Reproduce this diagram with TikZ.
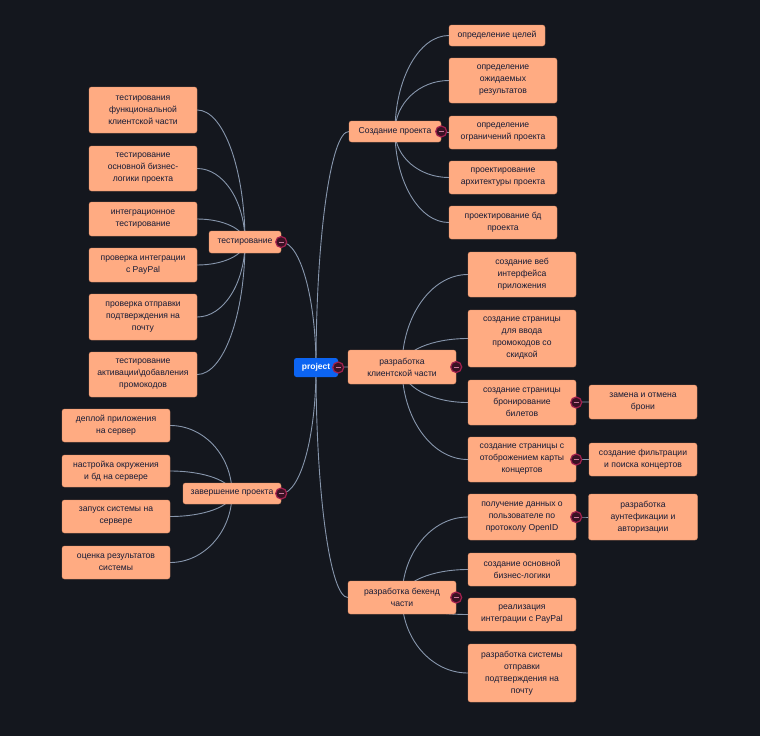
\documentclass[tikz,border=0pt]{standalone}
\usepackage{fontspec}
\setmainfont{Liberation Sans}
\usetikzlibrary{calc}
\pgfdeclarelayer{edgelayer}
\pgfsetlayers{edgelayer,main}
\definecolor{bgcol}{HTML}{14171E}
\definecolor{boxfill}{HTML}{FFAB82}
\definecolor{boxline}{HTML}{D98C66}
\definecolor{ink}{HTML}{161B36}
\definecolor{edgecol}{HTML}{8796AC}
\definecolor{rootblue}{HTML}{0C64F2}
\definecolor{ringcol}{HTML}{A1204E}
\definecolor{ringfill}{HTML}{3A1224}
\definecolor{minuscol}{HTML}{C9789A}
\tikzset{
    topic/.style={draw=boxline, fill=boxfill, text=ink, rounded corners=2.5pt, align=center,
        inner sep=2pt, minimum width=108pt, minimum height=33pt, font=\fontsize{8.6}{12}\selectfont},
    tall/.style={minimum height=#1},
    broad/.style={minimum width=#1},
    rootbox/.style={fill=rootblue, text=white, rounded corners=2.5pt, inner sep=2pt,
        minimum width=44pt, minimum height=19pt, font=\fontsize{8.5}{12}\selectfont\bfseries},
    knob/.style={circle, draw=ringcol, fill=ringfill, line width=1.2pt, minimum size=11pt, inner sep=0pt,
        path picture={\draw [minuscol, line width=1pt] ([xshift=-2.5pt]path picture bounding box.center)
            -- ([xshift=2.5pt]path picture bounding box.center);}},
    branch/.style={draw=edgecol, line width=0.9pt,
        to path={.. controls ($(\tikztostart)!0.55!(\tikztostart|-\tikztotarget)$)
            and ($(\tikztotarget)!0.55!(\tikztostart|-\tikztotarget)$) .. (\tikztotarget)}}
}
\begin{document}
\begin{tikzpicture}[x=1pt, y=-1pt]
        \useasboundingbox (0, 0) rectangle (760, 736);
        \node [rootbox] (root) at (316, 367.5) {project};
        \node [topic, broad=92pt, tall=21pt] (sozd) at (395, 131.5) {Создание проекта};
        \node [topic, broad=72pt, tall=22pt] (test) at (245, 242) {тестирование};
        \node [topic, tall=34pt] (client) at (402, 367) {разработка\\клиентской части};
        \node [topic, broad=98pt, tall=21pt] (zaversh) at (232, 493.5) {завершение проекта};
        \node [topic, tall=33pt] (backend) at (402, 597.5) {разработка бекенд\\части};
        \node [topic, broad=96pt, tall=21pt] (c1) at (497, 35.5) {определение целей};
        \node [topic, tall=45pt] (c2) at (503, 80.5) {определение\\ожидаемых\\результатов};
        \node [topic] (c3) at (503, 132.5) {определение\\ограничений проекта};
        \node [topic] (c4) at (503, 177.5) {проектирование\\архитектуры проекта};
        \node [topic] (c5) at (503, 222.5) {проектирование бд\\проекта};
        \node [topic, tall=46pt] (t1) at (143, 110) {тестирования\\функциональной\\клиентской части};
        \node [topic, tall=45pt] (t2) at (143, 168.5) {тестирование\\основной бизнес-\\логики проекта};
        \node [topic, tall=34pt] (t3) at (143, 219) {интеграционное\\тестирование};
        \node [topic, tall=34pt] (t4) at (143, 265) {проверка интеграции\\с PayPal};
        \node [topic, tall=46pt] (t5) at (143, 317) {проверка отправки\\подтверждения на\\почту};
        \node [topic, tall=45pt] (t6) at (143, 374.5) {тестирование\\активации\textbackslash добавления\\промокодов};
        \node [topic, tall=45pt] (k1) at (522, 274.5) {создание веб\\интерфейса\\приложения};
        \node [topic, tall=57pt] (k2) at (522, 338.5) {создание страницы\\для ввода\\промокодов со\\скидкой};
        \node [topic, tall=45pt] (k3) at (522, 402.5) {создание страницы\\бронирование\\билетов};
        \node [topic, tall=45pt] (k4) at (522, 459.5) {создание страницы с\\отоброжением карты\\концертов};
        \node [topic, tall=34pt] (k3a) at (643, 402) {замена и отмена\\брони};
        \node [topic] (k4a) at (643, 459.5) {создание фильтрации\\и поиска концертов};
        \node [topic] (z1) at (116, 425.5) {деплой приложения\\на сервер};
        \node [topic, tall=32pt] (z2) at (116, 471) {настройка окружения\\и бд на сервере};
        \node [topic] (z3) at (116, 516.5) {запуск системы на\\сервере};
        \node [topic] (z4) at (116, 562.5) {оценка результатов\\системы};
        \node [topic, tall=46pt] (b1) at (522, 517) {получение данных о\\пользователе по\\протоколу OpenID};
        \node [topic] (b2) at (522, 569.5) {создание основной\\бизнес-логики};
        \node [topic] (b3) at (522, 614.5) {реализация\\интеграции с PayPal};
        \node [topic, tall=58pt] (b4) at (522, 673) {разработка системы\\отправки\\подтверждения на\\почту};
        \node [topic, broad=109pt, tall=46pt] (b1a) at (643, 517) {разработка\\аунтефикации и\\авторизации};
        \node [knob] (root-k) at (root.east) {};
        \node [knob] (sozd-k) at (sozd.east) {};
        \node [knob] (test-k) at (test.east) {};
        \node [knob] (client-k) at (client.east) {};
        \node [knob] (zaversh-k) at (zaversh.east) {};
        \node [knob] (backend-k) at (backend.east) {};
        \node [knob] (k3-k) at (k3.east) {};
        \node [knob] (k4-k) at (k4.east) {};
        \node [knob] (b1-k) at (b1.east) {};
        \begin{pgfonlayer}{edgelayer}
        \fill [bgcol] (0, 0) rectangle (760, 736);
        \draw [branch] (root.center) to (sozd.west);
        \draw [branch] (root.center) to (test.east);
        \draw [branch] (root.center) to (client.west);
        \draw [branch] (root.center) to (zaversh.east);
        \draw [branch] (root.center) to (backend.west);
        \draw [branch] (sozd.center) to (c1.west);
        \draw [branch] (sozd.center) to (c2.west);
        \draw [branch] (sozd.center) to (c3.west);
        \draw [branch] (sozd.center) to (c4.west);
        \draw [branch] (sozd.center) to (c5.west);
        \draw [branch] (test.center) to (t1.east);
        \draw [branch] (test.center) to (t2.east);
        \draw [branch] (test.center) to (t3.east);
        \draw [branch] (test.center) to (t4.east);
        \draw [branch] (test.center) to (t5.east);
        \draw [branch] (test.center) to (t6.east);
        \draw [branch] (client.center) to (k1.west);
        \draw [branch] (client.center) to (k2.west);
        \draw [branch] (client.center) to (k3.west);
        \draw [branch] (client.center) to (k4.west);
        \draw [branch] (k3.center) to (k3a.west);
        \draw [branch] (k4.center) to (k4a.west);
        \draw [branch] (zaversh.center) to (z1.east);
        \draw [branch] (zaversh.center) to (z2.east);
        \draw [branch] (zaversh.center) to (z3.east);
        \draw [branch] (zaversh.center) to (z4.east);
        \draw [branch] (backend.center) to (b1.west);
        \draw [branch] (backend.center) to (b2.west);
        \draw [branch] (backend.center) to (b3.west);
        \draw [branch] (backend.center) to (b4.west);
        \draw [branch] (b1.center) to (b1a.west);
        \end{pgfonlayer}
\end{tikzpicture}
\end{document}
